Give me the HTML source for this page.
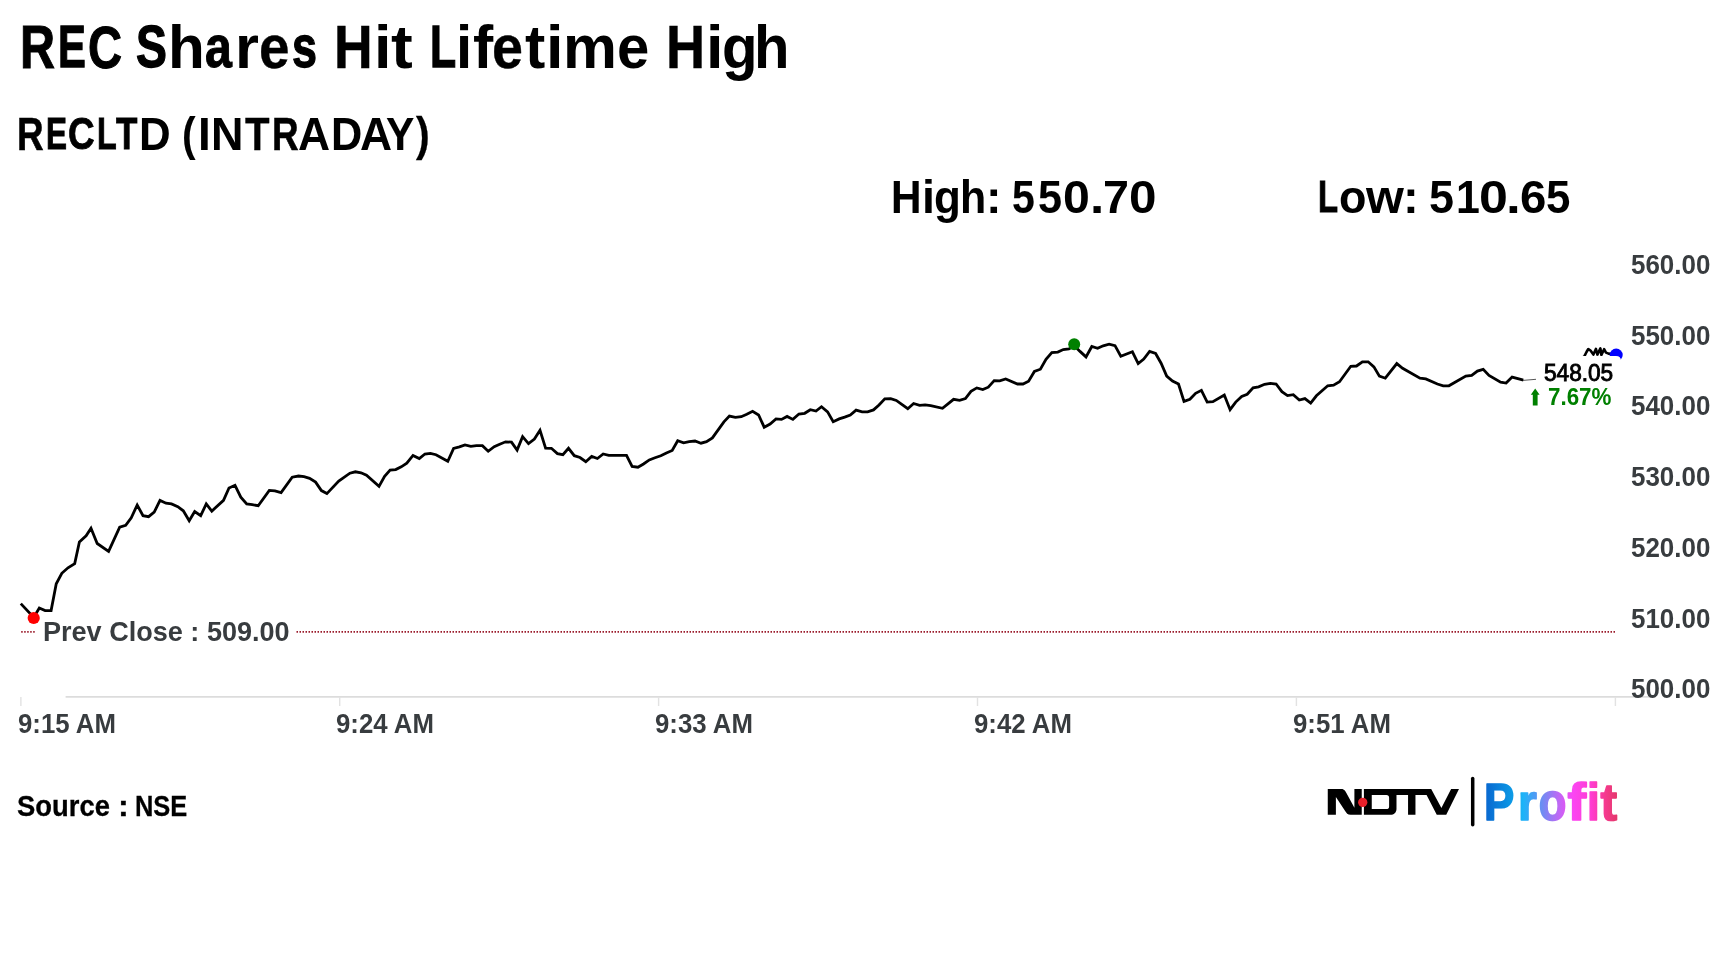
<!DOCTYPE html>
<html><head><meta charset="utf-8"><title>REC Shares Hit Lifetime High</title>
<style>
html,body{margin:0;padding:0;background:#fff;}
body{width:1728px;height:972px;position:relative;overflow:hidden;font-family:"Liberation Sans",sans-serif;}
.t{position:absolute;white-space:nowrap;font-weight:bold;line-height:1;transform-origin:0 0;color:#000;}
svg{position:absolute;left:0;top:0;}
</style></head><body>
<svg width="1728" height="972" viewBox="0 0 1728 972">
  <!-- x axis -->
  <line x1="65.6" y1="696.9" x2="1655" y2="696.9" stroke="#dcdcdc" stroke-width="1.6"/>
  <g stroke="#e2e2e2" stroke-width="1.4">
    <line x1="20.9" y1="697" x2="20.9" y2="706"/>
    <line x1="339.7" y1="697" x2="339.7" y2="706"/>
    <line x1="658.6" y1="697" x2="658.6" y2="706"/>
    <line x1="977.5" y1="697" x2="977.5" y2="706"/>
    <line x1="1296.4" y1="697" x2="1296.4" y2="706"/>
    <line x1="1615.4" y1="697" x2="1615.4" y2="706"/>
  </g>
  <!-- prev close dotted line -->
  <g stroke="#9a1a2a" stroke-width="1.7" stroke-dasharray="1.5 1.5">
    <line x1="21.2" y1="631.8" x2="35" y2="631.8"/>
    <line x1="296.5" y1="631.8" x2="1616.5" y2="631.8"/>
  </g>
  <!-- price line -->
  <polyline fill="none" stroke="#000" stroke-width="2.8" stroke-linejoin="miter" stroke-miterlimit="3" stroke-linecap="butt" points="20.8,603.6 33.75,617.5 39.3,608 45.1,610.6 51.1,610.6 56.25,583.75 61.8,573.3 68,567.8 74.7,563.6 79.4,542 86.1,535.8 91,528.2 97.2,543.5 108.6,551.4 119.7,527.2 125.7,525.4 131.25,517.8 137.2,505 143,515.7 148.6,516.7 154.2,512.2 160,500.4 166,503.2 171.5,503.9 177.8,506.7 183.3,510.8 189.2,520.8 194.7,511.5 200.7,515.7 206.25,503.9 211.8,511.1 223.5,500.3 229,488 235,485.3 240.8,497.1 246.7,504 252.2,504.7 258.2,505.7 269.3,490.4 274.9,490.8 281.1,492.6 292.2,477.2 298.5,476 304,476.7 309.6,478.3 315.6,482.1 321.4,490.6 326.9,493.6 338.75,481.1 349.9,473.2 355.4,471.8 361,472.8 366.5,475.3 379,486.4 384.6,476.25 390.1,470 395.7,469.6 401.25,466.8 406.8,463.1 413,455.4 419.3,458.6 424.9,454 430.4,453.3 436,454.7 447.8,461.25 453.6,448.5 459.4,446.9 465,445 470.8,446.4 476.4,445.6 482.4,445.7 488.2,451.25 494.2,446.7 499.7,444.3 505.6,441.8 511.5,442.2 517.1,450.1 522.6,436.7 528.5,443.6 534.4,439 540,430.3 545.6,448.1 551.4,448.3 557.4,453.6 562.9,454.7 568.5,448.3 574.3,455.7 580,457.5 585.8,461.7 591.7,456.4 597.4,458.5 603.2,454 608.75,455.3 614.6,455.4 620.6,455.4 626.5,455.4 632.1,466.5 637.9,467.2 643.5,464 649.3,459.9 655,457.8 660.8,455.7 666.4,452.9 672.2,450.5 677.7,440.7 683.6,442.8 689.2,441.7 695,441 701,443.2 706.5,441.7 712.4,437.9 723.9,421.9 729.4,416.1 735.4,417.4 741.25,416.7 746.8,414.3 752.6,411.25 758.6,415 764.2,427.2 770.1,424 776,418.9 781.5,419.4 787.1,416.4 792.9,419.4 798.9,414 804.7,413.3 810.3,409.7 816,411.1 821.5,406.7 827.6,411.9 833.2,421.7 839.2,418.9 844.7,417.1 850.3,415 856.1,410.1 862.1,411.9 867.6,411.8 873.5,409.9 879,405 884.8,398.8 890.7,398.6 896.3,400.4 907.8,408.75 913.6,403.5 919.6,405.3 925.1,404.9 930.7,405.6 942.5,408.3 953.6,399.3 959.6,400.3 965.4,398.6 971,391.4 976.8,387.9 982.8,389.6 988.3,387.2 994.2,380.6 999.7,380.8 1005.7,378.9 1017.5,384 1023,384 1028.6,381.25 1034.4,371.5 1040.4,369.2 1046,359.4 1051.8,352.5 1057.8,352.1 1063.3,349.6 1068.9,348.9 1074.4,345.8 1080,351.4 1086,356.9 1091.8,346.5 1097.6,348.3 1103.2,345.8 1109.1,344.2 1115,345.7 1120.8,356.25 1132.4,351.8 1138.2,363.5 1143.75,359 1149.6,351.4 1155.6,353.5 1161.1,363.2 1166.7,376.1 1172.5,381 1178.5,384 1184,401.4 1189.9,399.3 1195.6,393.3 1201.4,390.3 1207.2,402.1 1212.9,401.7 1224.3,395.1 1230.1,409.7 1235.7,402.1 1241.7,396.5 1247.2,394.2 1253.1,387.9 1258.6,386.8 1264.6,384.3 1270.4,383.3 1276.1,384 1281.9,391.7 1287.5,395.6 1293.3,394.7 1299.3,400 1304.9,398.6 1310.7,403.1 1316.4,395.8 1327.7,385.75 1333.6,385.25 1339.5,381.8 1350.8,366.25 1356.5,366 1362.4,361.8 1368.2,361.8 1373.9,366.9 1379.4,376.1 1385.3,378.2 1396.8,363.6 1402.6,368.3 1420,378.1 1425.8,378.9 1437.4,384 1443.2,385.8 1448.9,385.8 1465.8,376 1471.7,375.4 1477.4,371.1 1483.2,369.4 1489,375.4 1500.6,382.2 1506.1,383.1 1512.1,377.1 1523.5,380.1"/>
  <polyline fill="none" stroke="#000" stroke-width="2.6" stroke-linejoin="round" points="1523.5,380.1 1584.2,356.6 1586.5,352 1588.3,349 1590.5,350.5 1593.4,354.6 1595.9,348.9 1597.4,354.6 1600.4,348.4 1601.4,355 1604.1,349.2 1606,352.6 1608.5,353.6 1616,354.8"/>
  <circle cx="33.7" cy="618" r="6.1" fill="#ff0000"/>
  <circle cx="1074.2" cy="344.2" r="6" fill="#008000"/>
  <circle cx="1616.2" cy="355" r="6.5" fill="#0000ff"/>
  <!-- white label box -->
  <path d="M1523.5,356 H1616 Q1621,356 1621,361 V412 H1523.5 Z" fill="#fff"/>
  <line x1="1523" y1="380.4" x2="1536" y2="379.3" stroke="#444" stroke-width="0.9"/>
  <!-- up arrow -->
  <polygon points="1535.2,388.6 1539.6,394.8 1537.6,394.8 1537.6,405.6 1532.8,405.6 1532.8,394.8 1530.8,394.8" fill="#008000"/>
</svg>





<!-- text labels (Liberation Sans, horizontally fitted) -->
<div class="t" id="c00" style="left:19.62px;top:17.87px;font-size:60.19px;-webkit-text-stroke:1px #000;transform:scaleX(0.806);">R</div>
<div class="t" id="c01" style="left:57.71px;top:16.64px;font-size:59.46px;-webkit-text-stroke:1.3px #000;transform:scaleX(0.702);">E</div>
<div class="t" id="c02" style="left:87.53px;top:17.57px;font-size:59.39px;-webkit-text-stroke:1.14px #000;transform:scaleX(0.793);">C</div>
<div class="t" id="c03" style="left:136.08px;top:17.73px;font-size:58.86px;-webkit-text-stroke:1.3px #000;transform:scaleX(0.787);">S</div>
<div class="t" id="c04" style="left:167.67px;top:16.83px;font-size:60.45px;transform:scaleX(0.997);">h</div>
<div class="t" id="c05" style="left:204.62px;top:16.95px;font-size:59.83px;-webkit-text-stroke:1.04px #000;transform:scaleX(0.808);">a</div>
<div class="t" id="c06" style="left:234.98px;top:16.83px;font-size:60.45px;transform:scaleX(1.017);">r</div>
<div class="t" id="c07" style="left:258.73px;top:16.91px;font-size:61.11px;-webkit-text-stroke:0.37px #000;transform:scaleX(0.899);">e</div>
<div class="t" id="c08" style="left:291.98px;top:17.73px;font-size:58.86px;-webkit-text-stroke:1.3px #000;transform:scaleX(0.763);">s</div>
<div class="t" id="c09" style="left:333.66px;top:16.51px;font-size:60.91px;-webkit-text-stroke:0.51px #000;transform:scaleX(0.879);">H</div>
<div class="t" id="c10" style="left:373.59px;top:16.83px;font-size:60.45px;transform:scaleX(1.04);">i</div>
<div class="t" id="c11" style="left:390.64px;top:16.83px;font-size:60.45px;transform:scaleX(1.08);">t</div>
<div class="t" id="c12" style="left:429.73px;top:16.68px;font-size:59.16px;-webkit-text-stroke:1.3px #000;transform:scaleX(0.724);">L</div>
<div class="t" id="c13" style="left:455.65px;top:16.85px;font-size:60.4px;-webkit-text-stroke:0.03px #000;transform:scaleX(0.963);">i</div>
<div class="t" id="c14" style="left:472.53px;top:16.83px;font-size:60.45px;transform:scaleX(1.005);">f</div>
<div class="t" id="c15" style="left:491.88px;top:16.94px;font-size:61.04px;-webkit-text-stroke:0.42px #000;transform:scaleX(0.912);">e</div>
<div class="t" id="c16" style="left:524.73px;top:16.83px;font-size:60.45px;transform:scaleX(1.008);">t</div>
<div class="t" id="c17" style="left:545.95px;top:16.83px;font-size:60.45px;transform:scaleX(1.04);">i</div>
<div class="t" id="c18" style="left:562.67px;top:16.83px;font-size:60.45px;transform:scaleX(1.004);">m</div>
<div class="t" id="c19" style="left:616.92px;top:16.87px;font-size:60.37px;-webkit-text-stroke:0.05px #000;transform:scaleX(0.961);">e</div>
<div class="t" id="c20" style="left:665.64px;top:16.97px;font-size:60.98px;-webkit-text-stroke:0.46px #000;transform:scaleX(0.888);">H</div>
<div class="t" id="c21" style="left:705.55px;top:16.83px;font-size:60.45px;transform:scaleX(1.04);">i</div>
<div class="t" id="c22" style="left:721.61px;top:16.87px;font-size:60.37px;-webkit-text-stroke:0.05px #000;transform:scaleX(0.964);">g</div>
<div class="t" id="c23" style="left:753.86px;top:16.85px;font-size:60.4px;-webkit-text-stroke:0.03px #000;transform:scaleX(0.962);">h</div>
<div class="t" id="cur" style="left:1543.74px;top:362.1px;font-size:23px;font-weight:normal;-webkit-text-stroke:0.9px #000;transform:scaleX(0.983);">548.05</div>
<div class="t" id="s00" style="left:16.71px;top:111.88px;font-size:45.62px;-webkit-text-stroke:0.56px #000;transform:scaleX(0.809);">R</div>
<div class="t" id="s01" style="left:45.55px;top:111.8px;font-size:44.39px;-webkit-text-stroke:1px #000;transform:scaleX(0.709);">E</div>
<div class="t" id="s02" style="left:67.58px;top:111.64px;font-size:44.69px;-webkit-text-stroke:0.79px #000;transform:scaleX(0.825);">C</div>
<div class="t" id="s03" style="left:96.74px;top:110.65px;font-size:45.29px;-webkit-text-stroke:1px #000;transform:scaleX(0.712);">L</div>
<div class="t" id="s04" style="left:115.93px;top:111.71px;font-size:44.56px;-webkit-text-stroke:0.88px #000;transform:scaleX(0.786);">T</div>
<div class="t" id="s05" style="left:138.7px;top:111.57px;font-size:45.84px;transform:scaleX(0.957);">D</div>
<div class="t" id="s06" style="left:181.65px;top:111.6px;font-size:45.78px;-webkit-text-stroke:0.04px #000;transform:scaleX(0.893);">(</div>
<div class="t" id="s07" style="left:197.53px;top:111.57px;font-size:45.84px;transform:scaleX(1.001);">I</div>
<div class="t" id="s08" style="left:211.08px;top:111.57px;font-size:45.84px;transform:scaleX(0.981);">N</div>
<div class="t" id="s09" style="left:244.57px;top:111.8px;font-size:45.37px;-webkit-text-stroke:0.32px #000;transform:scaleX(0.886);">T</div>
<div class="t" id="s10" style="left:271.86px;top:111.88px;font-size:45.62px;-webkit-text-stroke:0.56px #000;transform:scaleX(0.809);">R</div>
<div class="t" id="s11" style="left:297.74px;top:111.57px;font-size:45.84px;transform:scaleX(0.97);">A</div>
<div class="t" id="s12" style="left:330.7px;top:111.58px;font-size:45.81px;-webkit-text-stroke:0.02px #000;transform:scaleX(0.946);">D</div>
<div class="t" id="s13" style="left:359.78px;top:111.57px;font-size:45.84px;transform:scaleX(0.97);">A</div>
<div class="t" id="s14" style="left:385.67px;top:111.62px;font-size:45.72px;-webkit-text-stroke:0.08px #000;transform:scaleX(0.93);">Y</div>
<div class="t" id="s15" style="left:415.5px;top:110.58px;font-size:46.63px;-webkit-text-stroke:0.28px #000;transform:scaleX(0.883);">)</div>
<div class="t" id="h00" style="left:890.61px;top:174.89px;font-size:45.45px;-webkit-text-stroke:0.12px #000;transform:scaleX(0.93);">H</div>
<div class="t" id="h01" style="left:921.6px;top:174.8px;font-size:45.62px;transform:scaleX(1.024);">i</div>
<div class="t" id="h02" style="left:933.64px;top:174.8px;font-size:45.62px;transform:scaleX(0.964);">g</div>
<div class="t" id="h03" style="left:959.55px;top:174.82px;font-size:45.58px;-webkit-text-stroke:0.03px #000;transform:scaleX(0.942);">h</div>
<div class="t" id="h04" style="left:985.99px;top:174.8px;font-size:45.62px;transform:scaleX(1.021);">:</div>
<div class="t" id="h05" style="left:1011.59px;top:174.91px;font-size:45.4px;-webkit-text-stroke:0.15px #000;transform:scaleX(0.901);">5</div>
<div class="t" id="h06" style="left:1037.67px;top:174.9px;font-size:45.43px;-webkit-text-stroke:0.13px #000;transform:scaleX(0.949);">5</div>
<div class="t" id="h07" style="left:1062.55px;top:174.8px;font-size:45.62px;transform:scaleX(1.058);">0</div>
<div class="t" id="h08" style="left:1089.6px;top:174.8px;font-size:45.62px;transform:scaleX(1.123);">.</div>
<div class="t" id="h09" style="left:1102.7px;top:174.8px;font-size:45.62px;transform:scaleX(1.024);">7</div>
<div class="t" id="h10" style="left:1128.52px;top:174.8px;font-size:45.62px;transform:scaleX(1.084);">0</div>
<div class="t" id="l00" style="left:1318px;top:174.53px;font-size:44.17px;-webkit-text-stroke:1px #000;transform:scaleX(0.743);">L</div>
<div class="t" id="l01" style="left:1338.55px;top:174.8px;font-size:45.62px;transform:scaleX(0.984);">o</div>
<div class="t" id="l02" style="left:1365.53px;top:174.8px;font-size:45.62px;transform:scaleX(1.067);">w</div>
<div class="t" id="l03" style="left:1402.6px;top:174.8px;font-size:45.62px;transform:scaleX(1.039);">:</div>
<div class="t" id="l04" style="left:1429.17px;top:174.8px;font-size:45.62px;transform:scaleX(0.984);">5</div>
<div class="t" id="l05" style="left:1455.62px;top:174.83px;font-size:45.56px;-webkit-text-stroke:0.04px #000;transform:scaleX(0.941);">1</div>
<div class="t" id="l06" style="left:1478.75px;top:174.8px;font-size:45.62px;transform:scaleX(1.139);">0</div>
<div class="t" id="l07" style="left:1505.71px;top:174.8px;font-size:45.62px;transform:scaleX(1.167);">.</div>
<div class="t" id="l08" style="left:1519.72px;top:174.8px;font-size:45.62px;transform:scaleX(1.039);">6</div>
<div class="t" id="l09" style="left:1546.09px;top:174.8px;font-size:45.62px;transform:scaleX(0.961);">5</div>
<div class="t" id="src1" style="left:16.72px;top:790.96px;font-size:29.34px;-webkit-text-stroke:0.3px #000;transform:scaleX(0.934);">Source</div>
<div class="t" id="src2" style="left:117.7px;top:790.96px;font-size:29.34px;-webkit-text-stroke:0.3px #000;transform:scaleX(1.102);">:</div>
<div class="t" id="src3" style="left:134.51px;top:790.96px;font-size:29.34px;-webkit-text-stroke:0.3px #000;transform:scaleX(0.867);">NSE</div>
<div class="t" id="pc" style="left:42.92px;top:619.3px;font-size:27px;color:#383c3f;transform:scaleX(1.002);">Prev Close : 509.00</div>
<div class="t" id="pct" style="left:1547.53px;top:385.5px;font-size:23px;color:#008000;transform:scaleX(0.973);">7.67%</div>
<div class="t" id="y0" style="left:1630.77px;top:251.76px;font-size:27px;color:#383c3f;transform:scaleX(0.961);">560.00</div>
<div class="t" id="y1" style="left:1630.77px;top:322.53px;font-size:27px;color:#383c3f;transform:scaleX(0.961);">550.00</div>
<div class="t" id="y2" style="left:1630.77px;top:393.3px;font-size:27px;color:#383c3f;transform:scaleX(0.961);">540.00</div>
<div class="t" id="y3" style="left:1630.77px;top:464.07px;font-size:27px;color:#383c3f;transform:scaleX(0.961);">530.00</div>
<div class="t" id="y4" style="left:1630.77px;top:534.84px;font-size:27px;color:#383c3f;transform:scaleX(0.961);">520.00</div>
<div class="t" id="y5" style="left:1630.77px;top:605.61px;font-size:27px;color:#383c3f;transform:scaleX(0.961);">510.00</div>
<div class="t" id="y6" style="left:1630.77px;top:676.38px;font-size:27px;color:#383c3f;transform:scaleX(0.961);">500.00</div>
<div class="t" id="x0" style="left:17.63px;top:710.91px;font-size:27px;color:#383c3f;transform:scaleX(0.955);">9:15 AM</div>
<div class="t" id="x1" style="left:335.77px;top:710.91px;font-size:27px;color:#383c3f;transform:scaleX(0.955);">9:24 AM</div>
<div class="t" id="x2" style="left:654.74px;top:710.91px;font-size:27px;color:#383c3f;transform:scaleX(0.955);">9:33 AM</div>
<div class="t" id="x3" style="left:973.66px;top:710.91px;font-size:27px;color:#383c3f;transform:scaleX(0.955);">9:42 AM</div>
<div class="t" id="x4" style="left:1292.88px;top:710.91px;font-size:27px;color:#383c3f;transform:scaleX(0.955);">9:51 AM</div>

<!-- NDTV | Profit logo -->
<svg width="1728" height="972" viewBox="0 0 1728 972">
  <defs>
    <linearGradient id="pg" x1="1486" y1="0" x2="1618" y2="0" gradientUnits="userSpaceOnUse">
      <stop offset="0" stop-color="#0868d0"/>
      <stop offset="0.2" stop-color="#0c9ae6"/>
      <stop offset="0.28" stop-color="#1cb4f8"/>
      <stop offset="0.42" stop-color="#6a8ef2"/>
      <stop offset="0.56" stop-color="#c465f5"/>
      <stop offset="0.66" stop-color="#fb45f3"/>
      <stop offset="0.8" stop-color="#ff3cd0"/>
      <stop offset="0.9" stop-color="#f63a90"/>
      <stop offset="1" stop-color="#e23868"/>
    </linearGradient>
  </defs>
  <g transform="translate(1316,772) scale(0.09722)">
    <path fill="#000" d="M121,174.3 H262 C292,174.3 305,200 318,226 L395,368 V174.3 H470.5 V441 H356 C326,441 312,420 298,398 L204.6,258 V441 H121 Z"/>
    <path fill="#000" fill-rule="evenodd" d="M492.7,174.3 H1185 L1289.8,369.5 L1389.8,174.3 H1470.7 L1339.8,441 H1242.1 L1137.4,237 H1023.1 V441 H946.9 V237 H828 V379 C828,420 800,441 766,441 H492.7 Z M573.6,237 H724 C742,237 752,247 752,265 V354 C752,372 742,381.4 724,381.4 H573.6 Z"/>
    <circle cx="480.7" cy="312.4" r="48" fill="#e8202a"/>
  </g>
  <line x1="1472.7" y1="778.6" x2="1472.7" y2="824.8" stroke="#000" stroke-width="3.5" stroke-linecap="round"/>
  <mask id="pm" maskUnits="userSpaceOnUse" x="1478" y="768" width="150" height="64">
    <text transform="translate(1483.986,820.05) scale(0.882,1)" font-family="Liberation Sans, sans-serif" font-weight="bold" font-size="51.4" fill="#fff" stroke="#fff" stroke-width="1.6" stroke-linejoin="round">P</text>
    <text transform="translate(1517.949,820.05) scale(0.942,1)" font-family="Liberation Sans, sans-serif" font-weight="bold" font-size="51.4" fill="#fff" stroke="#fff" stroke-width="1.6" stroke-linejoin="round">r</text>
    <text transform="translate(1538.847,820.05) scale(0.88,1)" font-family="Liberation Sans, sans-serif" font-weight="bold" font-size="51.4" fill="#fff" stroke="#fff" stroke-width="1.6" stroke-linejoin="round">o</text>
    <text transform="translate(1567.511,820.05) scale(1.088,1)" font-family="Liberation Sans, sans-serif" font-weight="bold" font-size="51.4" fill="#fff" stroke="#fff" stroke-width="1.6" stroke-linejoin="round">f</text>
    <text transform="translate(1587.064,820.05) scale(0.892,1)" font-family="Liberation Sans, sans-serif" font-weight="bold" font-size="51.4" fill="#fff" stroke="#fff" stroke-width="1.6" stroke-linejoin="round">i</text>
    <text transform="translate(1600.577,820.05) scale(0.97,1)" font-family="Liberation Sans, sans-serif" font-weight="bold" font-size="51.4" fill="#fff" stroke="#fff" stroke-width="1.6" stroke-linejoin="round">t</text>
  </mask>
  <rect x="1478" y="768" width="150" height="64" fill="url(#pg)" mask="url(#pm)"/>
</svg>
</body></html>
